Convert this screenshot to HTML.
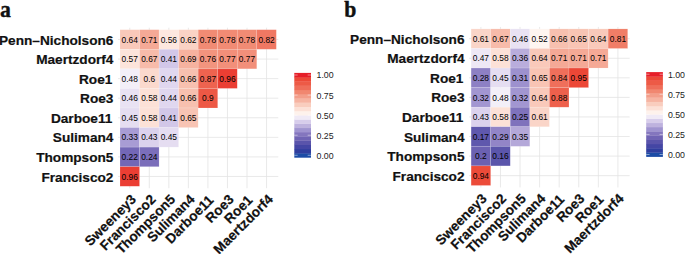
<!DOCTYPE html>
<html><head><meta charset="utf-8"><title>Correlation heatmaps</title>
<style>
html,body{margin:0;padding:0;background:#fff;}
body{width:685px;height:254px;position:relative;overflow:hidden;font-family:"Liberation Sans",sans-serif;}
</style></head><body>
<svg width="685" height="254" viewBox="0 0 685 254" style="position:absolute;left:0;top:0;font-family:'Liberation Sans',sans-serif">
<g transform="translate(0,0.2)">
<line x1="129.77" y1="27.54" x2="129.77" y2="188.02" stroke="#e3e3e3" stroke-width="0.8"/>
<line x1="118.05" y1="39.28" x2="278.27" y2="39.28" stroke="#e3e3e3" stroke-width="0.8"/>
<line x1="149.31" y1="27.54" x2="149.31" y2="188.02" stroke="#e3e3e3" stroke-width="0.8"/>
<line x1="118.05" y1="58.86" x2="278.27" y2="58.86" stroke="#e3e3e3" stroke-width="0.8"/>
<line x1="168.85" y1="27.54" x2="168.85" y2="188.02" stroke="#e3e3e3" stroke-width="0.8"/>
<line x1="118.05" y1="78.42" x2="278.27" y2="78.42" stroke="#e3e3e3" stroke-width="0.8"/>
<line x1="188.39" y1="27.54" x2="188.39" y2="188.02" stroke="#e3e3e3" stroke-width="0.8"/>
<line x1="118.05" y1="98.00" x2="278.27" y2="98.00" stroke="#e3e3e3" stroke-width="0.8"/>
<line x1="207.93" y1="27.54" x2="207.93" y2="188.02" stroke="#e3e3e3" stroke-width="0.8"/>
<line x1="118.05" y1="117.56" x2="278.27" y2="117.56" stroke="#e3e3e3" stroke-width="0.8"/>
<line x1="227.47" y1="27.54" x2="227.47" y2="188.02" stroke="#e3e3e3" stroke-width="0.8"/>
<line x1="118.05" y1="137.13" x2="278.27" y2="137.13" stroke="#e3e3e3" stroke-width="0.8"/>
<line x1="247.01" y1="27.54" x2="247.01" y2="188.02" stroke="#e3e3e3" stroke-width="0.8"/>
<line x1="118.05" y1="156.70" x2="278.27" y2="156.70" stroke="#e3e3e3" stroke-width="0.8"/>
<line x1="266.55" y1="27.54" x2="266.55" y2="188.02" stroke="#e3e3e3" stroke-width="0.8"/>
<line x1="118.05" y1="176.28" x2="278.27" y2="176.28" stroke="#e3e3e3" stroke-width="0.8"/>
<rect x="120.00" y="29.50" width="19.54" height="19.57" fill="#f9c9ba" stroke="#ffffff" stroke-opacity="0.28" stroke-width="0.5"/>
<rect x="139.54" y="29.50" width="19.54" height="19.57" fill="#f5a996" stroke="#ffffff" stroke-opacity="0.28" stroke-width="0.5"/>
<rect x="159.08" y="29.50" width="19.54" height="19.57" fill="#fde7df" stroke="#ffffff" stroke-opacity="0.28" stroke-width="0.5"/>
<rect x="178.62" y="29.50" width="19.54" height="19.57" fill="#fad2c4" stroke="#ffffff" stroke-opacity="0.28" stroke-width="0.5"/>
<rect x="198.16" y="29.50" width="19.54" height="19.57" fill="#f18b74" stroke="#ffffff" stroke-opacity="0.28" stroke-width="0.5"/>
<rect x="217.70" y="29.50" width="19.54" height="19.57" fill="#f18b74" stroke="#ffffff" stroke-opacity="0.28" stroke-width="0.5"/>
<rect x="237.24" y="29.50" width="19.54" height="19.57" fill="#f18b74" stroke="#ffffff" stroke-opacity="0.28" stroke-width="0.5"/>
<rect x="256.78" y="29.50" width="19.54" height="19.57" fill="#f07863" stroke="#ffffff" stroke-opacity="0.28" stroke-width="0.5"/>
<rect x="120.00" y="49.07" width="19.54" height="19.57" fill="#fce4db" stroke="#ffffff" stroke-opacity="0.28" stroke-width="0.5"/>
<rect x="139.54" y="49.07" width="19.54" height="19.57" fill="#f7bbaa" stroke="#ffffff" stroke-opacity="0.28" stroke-width="0.5"/>
<rect x="159.08" y="49.07" width="19.54" height="19.57" fill="#d2c7e8" stroke="#ffffff" stroke-opacity="0.28" stroke-width="0.5"/>
<rect x="178.62" y="49.07" width="19.54" height="19.57" fill="#f6b29f" stroke="#ffffff" stroke-opacity="0.28" stroke-width="0.5"/>
<rect x="198.16" y="49.07" width="19.54" height="19.57" fill="#f2947e" stroke="#ffffff" stroke-opacity="0.28" stroke-width="0.5"/>
<rect x="217.70" y="49.07" width="19.54" height="19.57" fill="#f28f7a" stroke="#ffffff" stroke-opacity="0.28" stroke-width="0.5"/>
<rect x="237.24" y="49.07" width="19.54" height="19.57" fill="#f28f7a" stroke="#ffffff" stroke-opacity="0.28" stroke-width="0.5"/>
<rect x="120.00" y="68.64" width="19.54" height="19.57" fill="#f3eff8" stroke="#ffffff" stroke-opacity="0.28" stroke-width="0.5"/>
<rect x="139.54" y="68.64" width="19.54" height="19.57" fill="#fbd9cd" stroke="#ffffff" stroke-opacity="0.28" stroke-width="0.5"/>
<rect x="159.08" y="68.64" width="19.54" height="19.57" fill="#e0d7ef" stroke="#ffffff" stroke-opacity="0.28" stroke-width="0.5"/>
<rect x="178.62" y="68.64" width="19.54" height="19.57" fill="#f7c0af" stroke="#ffffff" stroke-opacity="0.28" stroke-width="0.5"/>
<rect x="198.16" y="68.64" width="19.54" height="19.57" fill="#ee634f" stroke="#ffffff" stroke-opacity="0.28" stroke-width="0.5"/>
<rect x="217.70" y="68.64" width="19.54" height="19.57" fill="#eb3e33" stroke="#ffffff" stroke-opacity="0.28" stroke-width="0.5"/>
<rect x="120.00" y="88.21" width="19.54" height="19.57" fill="#e9e2f3" stroke="#ffffff" stroke-opacity="0.28" stroke-width="0.5"/>
<rect x="139.54" y="88.21" width="19.54" height="19.57" fill="#fce1d7" stroke="#ffffff" stroke-opacity="0.28" stroke-width="0.5"/>
<rect x="159.08" y="88.21" width="19.54" height="19.57" fill="#e0d7ef" stroke="#ffffff" stroke-opacity="0.28" stroke-width="0.5"/>
<rect x="178.62" y="88.21" width="19.54" height="19.57" fill="#f7c0af" stroke="#ffffff" stroke-opacity="0.28" stroke-width="0.5"/>
<rect x="198.16" y="88.21" width="19.54" height="19.57" fill="#ed5845" stroke="#ffffff" stroke-opacity="0.28" stroke-width="0.5"/>
<rect x="120.00" y="107.78" width="19.54" height="19.57" fill="#e5ddf1" stroke="#ffffff" stroke-opacity="0.28" stroke-width="0.5"/>
<rect x="139.54" y="107.78" width="19.54" height="19.57" fill="#fce1d7" stroke="#ffffff" stroke-opacity="0.28" stroke-width="0.5"/>
<rect x="159.08" y="107.78" width="19.54" height="19.57" fill="#d2c7e8" stroke="#ffffff" stroke-opacity="0.28" stroke-width="0.5"/>
<rect x="178.62" y="107.78" width="19.54" height="19.57" fill="#f8c4b4" stroke="#ffffff" stroke-opacity="0.28" stroke-width="0.5"/>
<rect x="120.00" y="127.35" width="19.54" height="19.57" fill="#a89cd4" stroke="#ffffff" stroke-opacity="0.28" stroke-width="0.5"/>
<rect x="139.54" y="127.35" width="19.54" height="19.57" fill="#dbd2ed" stroke="#ffffff" stroke-opacity="0.28" stroke-width="0.5"/>
<rect x="159.08" y="127.35" width="19.54" height="19.57" fill="#e5ddf1" stroke="#ffffff" stroke-opacity="0.28" stroke-width="0.5"/>
<rect x="120.00" y="146.92" width="19.54" height="19.57" fill="#7367b6" stroke="#ffffff" stroke-opacity="0.28" stroke-width="0.5"/>
<rect x="139.54" y="146.92" width="19.54" height="19.57" fill="#7b6eba" stroke="#ffffff" stroke-opacity="0.28" stroke-width="0.5"/>
<rect x="120.00" y="166.49" width="19.54" height="19.57" fill="#eb3e33" stroke="#ffffff" stroke-opacity="0.28" stroke-width="0.5"/>
<text x="129.77" y="42.43" font-size="8.4" text-anchor="middle" fill="#000">0.64</text>
<text x="149.31" y="42.43" font-size="8.4" text-anchor="middle" fill="#000">0.71</text>
<text x="168.85" y="42.43" font-size="8.4" text-anchor="middle" fill="#000">0.56</text>
<text x="188.39" y="42.43" font-size="8.4" text-anchor="middle" fill="#000">0.62</text>
<text x="207.93" y="42.43" font-size="8.4" text-anchor="middle" fill="#000">0.78</text>
<text x="227.47" y="42.43" font-size="8.4" text-anchor="middle" fill="#000">0.78</text>
<text x="247.01" y="42.43" font-size="8.4" text-anchor="middle" fill="#000">0.78</text>
<text x="266.55" y="42.43" font-size="8.4" text-anchor="middle" fill="#000">0.82</text>
<text x="129.77" y="62.01" font-size="8.4" text-anchor="middle" fill="#000">0.57</text>
<text x="149.31" y="62.01" font-size="8.4" text-anchor="middle" fill="#000">0.67</text>
<text x="168.85" y="62.01" font-size="8.4" text-anchor="middle" fill="#000">0.41</text>
<text x="188.39" y="62.01" font-size="8.4" text-anchor="middle" fill="#000">0.69</text>
<text x="207.93" y="62.01" font-size="8.4" text-anchor="middle" fill="#000">0.76</text>
<text x="227.47" y="62.01" font-size="8.4" text-anchor="middle" fill="#000">0.77</text>
<text x="247.01" y="62.01" font-size="8.4" text-anchor="middle" fill="#000">0.77</text>
<text x="129.77" y="81.58" font-size="8.4" text-anchor="middle" fill="#000">0.48</text>
<text x="149.31" y="81.58" font-size="8.4" text-anchor="middle" fill="#000">0.6</text>
<text x="168.85" y="81.58" font-size="8.4" text-anchor="middle" fill="#000">0.44</text>
<text x="188.39" y="81.58" font-size="8.4" text-anchor="middle" fill="#000">0.66</text>
<text x="207.93" y="81.58" font-size="8.4" text-anchor="middle" fill="#000">0.87</text>
<text x="227.47" y="81.58" font-size="8.4" text-anchor="middle" fill="#000">0.96</text>
<text x="129.77" y="101.15" font-size="8.4" text-anchor="middle" fill="#000">0.46</text>
<text x="149.31" y="101.15" font-size="8.4" text-anchor="middle" fill="#000">0.58</text>
<text x="168.85" y="101.15" font-size="8.4" text-anchor="middle" fill="#000">0.44</text>
<text x="188.39" y="101.15" font-size="8.4" text-anchor="middle" fill="#000">0.66</text>
<text x="207.93" y="101.15" font-size="8.4" text-anchor="middle" fill="#000">0.9</text>
<text x="129.77" y="120.72" font-size="8.4" text-anchor="middle" fill="#000">0.45</text>
<text x="149.31" y="120.72" font-size="8.4" text-anchor="middle" fill="#000">0.58</text>
<text x="168.85" y="120.72" font-size="8.4" text-anchor="middle" fill="#000">0.41</text>
<text x="188.39" y="120.72" font-size="8.4" text-anchor="middle" fill="#000">0.65</text>
<text x="129.77" y="140.28" font-size="8.4" text-anchor="middle" fill="#000">0.33</text>
<text x="149.31" y="140.28" font-size="8.4" text-anchor="middle" fill="#000">0.43</text>
<text x="168.85" y="140.28" font-size="8.4" text-anchor="middle" fill="#000">0.45</text>
<text x="129.77" y="159.85" font-size="8.4" text-anchor="middle" fill="#000">0.22</text>
<text x="149.31" y="159.85" font-size="8.4" text-anchor="middle" fill="#000">0.24</text>
<text x="129.77" y="179.43" font-size="8.4" text-anchor="middle" fill="#000">0.96</text>
<text x="113.45" y="44.33" font-size="13.65" font-weight="bold" text-anchor="end" fill="#111" stroke="#111" stroke-width="0.2">Penn–Nicholson6</text>
<text x="113.45" y="63.91" font-size="13.65" font-weight="bold" text-anchor="end" fill="#111" stroke="#111" stroke-width="0.2">Maertzdorf4</text>
<text x="112.35" y="83.47" font-size="13.65" font-weight="bold" text-anchor="end" fill="#111" stroke="#111" stroke-width="0.2">Roe1</text>
<text x="113.45" y="103.05" font-size="13.65" font-weight="bold" text-anchor="end" fill="#111" stroke="#111" stroke-width="0.2">Roe3</text>
<text x="112.35" y="122.61" font-size="13.65" font-weight="bold" text-anchor="end" fill="#111" stroke="#111" stroke-width="0.2">Darboe11</text>
<text x="113.45" y="142.19" font-size="13.65" font-weight="bold" text-anchor="end" fill="#111" stroke="#111" stroke-width="0.2">Suliman4</text>
<text x="113.45" y="161.75" font-size="13.65" font-weight="bold" text-anchor="end" fill="#111" stroke="#111" stroke-width="0.2">Thompson5</text>
<text x="113.45" y="181.33" font-size="13.65" font-weight="bold" text-anchor="end" fill="#111" stroke="#111" stroke-width="0.2">Francisco2</text>
<text transform="translate(130.07,193.10) rotate(-45)" x="0" y="9.77" font-size="13.65" font-weight="bold" text-anchor="end" fill="#111" stroke="#111" stroke-width="0.2">Sweeney3</text>
<text transform="translate(149.61,193.10) rotate(-45)" x="0" y="9.77" font-size="13.65" font-weight="bold" text-anchor="end" fill="#111" stroke="#111" stroke-width="0.2">Francisco2</text>
<text transform="translate(169.15,193.10) rotate(-45)" x="0" y="9.77" font-size="13.65" font-weight="bold" text-anchor="end" fill="#111" stroke="#111" stroke-width="0.2">Thompson5</text>
<text transform="translate(188.69,193.10) rotate(-45)" x="0" y="9.77" font-size="13.65" font-weight="bold" text-anchor="end" fill="#111" stroke="#111" stroke-width="0.2">Suliman4</text>
<text transform="translate(208.23,193.10) rotate(-45)" x="-1.1" y="9.77" font-size="13.65" font-weight="bold" text-anchor="end" fill="#111" stroke="#111" stroke-width="0.2">Darboe11</text>
<text transform="translate(227.77,193.10) rotate(-45)" x="0" y="9.77" font-size="13.65" font-weight="bold" text-anchor="end" fill="#111" stroke="#111" stroke-width="0.2">Roe3</text>
<text transform="translate(247.31,193.10) rotate(-45)" x="-1.1" y="9.77" font-size="13.65" font-weight="bold" text-anchor="end" fill="#111" stroke="#111" stroke-width="0.2">Roe1</text>
<text transform="translate(266.85,193.10) rotate(-45)" x="0" y="9.77" font-size="13.65" font-weight="bold" text-anchor="end" fill="#111" stroke="#111" stroke-width="0.2">Maertzdorf4</text>
<rect x="294.30" y="152.97" width="16.7" height="4.52" fill="#1c4ca6"/>
<rect x="294.30" y="148.75" width="16.7" height="4.52" fill="#303e9e"/>
<rect x="294.30" y="144.52" width="16.7" height="4.52" fill="#4446a4"/>
<rect x="294.30" y="140.30" width="16.7" height="4.52" fill="#5a54ab"/>
<rect x="294.30" y="136.07" width="16.7" height="4.52" fill="#7064b4"/>
<rect x="294.30" y="131.85" width="16.7" height="4.52" fill="#8476be"/>
<rect x="294.30" y="127.62" width="16.7" height="4.52" fill="#a094d0"/>
<rect x="294.30" y="123.40" width="16.7" height="4.52" fill="#beb2de"/>
<rect x="294.30" y="119.17" width="16.7" height="4.52" fill="#d7cdeb"/>
<rect x="294.30" y="114.95" width="16.7" height="4.52" fill="#f0eaf6"/>
<rect x="294.30" y="110.72" width="16.7" height="4.52" fill="#fef2ec"/>
<rect x="294.30" y="106.50" width="16.7" height="4.52" fill="#fce1d7"/>
<rect x="294.30" y="102.27" width="16.7" height="4.52" fill="#f9cdbe"/>
<rect x="294.30" y="98.05" width="16.7" height="4.52" fill="#f6b4a2"/>
<rect x="294.30" y="93.82" width="16.7" height="4.52" fill="#f39e8a"/>
<rect x="294.30" y="89.60" width="16.7" height="4.52" fill="#f18770"/>
<rect x="294.30" y="85.37" width="16.7" height="4.52" fill="#ef6e5a"/>
<rect x="294.30" y="81.15" width="16.7" height="4.52" fill="#ed5a46"/>
<rect x="294.30" y="76.92" width="16.7" height="4.52" fill="#ec4937"/>
<rect x="294.30" y="72.70" width="16.7" height="4.52" fill="#e61e28"/>
<line x1="294.3" y1="155.09" x2="297.64" y2="155.09" stroke="#fff" stroke-opacity="0.8" stroke-width="0.6"/>
<line x1="307.66" y1="155.09" x2="311.00" y2="155.09" stroke="#fff" stroke-opacity="0.8" stroke-width="0.6"/>
<text x="316.50" y="158.54" font-size="8.8" fill="#222">0.00</text>
<line x1="294.3" y1="135.02" x2="297.64" y2="135.02" stroke="#fff" stroke-opacity="0.8" stroke-width="0.6"/>
<line x1="307.66" y1="135.02" x2="311.00" y2="135.02" stroke="#fff" stroke-opacity="0.8" stroke-width="0.6"/>
<text x="316.50" y="138.47" font-size="8.8" fill="#222">0.25</text>
<line x1="294.3" y1="114.95" x2="297.64" y2="114.95" stroke="#fff" stroke-opacity="0.8" stroke-width="0.6"/>
<line x1="307.66" y1="114.95" x2="311.00" y2="114.95" stroke="#fff" stroke-opacity="0.8" stroke-width="0.6"/>
<text x="316.50" y="118.40" font-size="8.8" fill="#222">0.50</text>
<line x1="294.3" y1="94.88" x2="297.64" y2="94.88" stroke="#fff" stroke-opacity="0.8" stroke-width="0.6"/>
<line x1="307.66" y1="94.88" x2="311.00" y2="94.88" stroke="#fff" stroke-opacity="0.8" stroke-width="0.6"/>
<text x="316.50" y="98.33" font-size="8.8" fill="#222">0.75</text>
<line x1="294.3" y1="74.81" x2="297.64" y2="74.81" stroke="#fff" stroke-opacity="0.8" stroke-width="0.6"/>
<line x1="307.66" y1="74.81" x2="311.00" y2="74.81" stroke="#fff" stroke-opacity="0.8" stroke-width="0.6"/>
<text x="316.50" y="78.26" font-size="8.8" fill="#222">1.00</text>
</g>
<text transform="translate(-0.1,16.5) scale(0.92,1)" x="0" y="0" font-family="Liberation Serif, serif" font-weight="bold" font-size="23.6" fill="#111" stroke="#111" stroke-width="0.45">a</text>
<g transform="translate(0,-0.6)">
<line x1="480.89" y1="27.54" x2="480.89" y2="188.02" stroke="#e3e3e3" stroke-width="0.8"/>
<line x1="469.14" y1="39.28" x2="629.66" y2="39.28" stroke="#e3e3e3" stroke-width="0.8"/>
<line x1="500.46" y1="27.54" x2="500.46" y2="188.02" stroke="#e3e3e3" stroke-width="0.8"/>
<line x1="469.14" y1="58.86" x2="629.66" y2="58.86" stroke="#e3e3e3" stroke-width="0.8"/>
<line x1="520.04" y1="27.54" x2="520.04" y2="188.02" stroke="#e3e3e3" stroke-width="0.8"/>
<line x1="469.14" y1="78.42" x2="629.66" y2="78.42" stroke="#e3e3e3" stroke-width="0.8"/>
<line x1="539.61" y1="27.54" x2="539.61" y2="188.02" stroke="#e3e3e3" stroke-width="0.8"/>
<line x1="469.14" y1="98.00" x2="629.66" y2="98.00" stroke="#e3e3e3" stroke-width="0.8"/>
<line x1="559.19" y1="27.54" x2="559.19" y2="188.02" stroke="#e3e3e3" stroke-width="0.8"/>
<line x1="469.14" y1="117.56" x2="629.66" y2="117.56" stroke="#e3e3e3" stroke-width="0.8"/>
<line x1="578.76" y1="27.54" x2="578.76" y2="188.02" stroke="#e3e3e3" stroke-width="0.8"/>
<line x1="469.14" y1="137.13" x2="629.66" y2="137.13" stroke="#e3e3e3" stroke-width="0.8"/>
<line x1="598.34" y1="27.54" x2="598.34" y2="188.02" stroke="#e3e3e3" stroke-width="0.8"/>
<line x1="469.14" y1="156.70" x2="629.66" y2="156.70" stroke="#e3e3e3" stroke-width="0.8"/>
<line x1="617.91" y1="27.54" x2="617.91" y2="188.02" stroke="#e3e3e3" stroke-width="0.8"/>
<line x1="469.14" y1="176.28" x2="629.66" y2="176.28" stroke="#e3e3e3" stroke-width="0.8"/>
<rect x="471.10" y="29.50" width="19.57" height="19.57" fill="#fad5c8" stroke="#ffffff" stroke-opacity="0.28" stroke-width="0.5"/>
<rect x="490.68" y="29.50" width="19.57" height="19.57" fill="#f7bbaa" stroke="#ffffff" stroke-opacity="0.28" stroke-width="0.5"/>
<rect x="510.25" y="29.50" width="19.57" height="19.57" fill="#e9e2f3" stroke="#ffffff" stroke-opacity="0.28" stroke-width="0.5"/>
<rect x="529.83" y="29.50" width="19.57" height="19.57" fill="#fef5f0" stroke="#ffffff" stroke-opacity="0.28" stroke-width="0.5"/>
<rect x="549.40" y="29.50" width="19.57" height="19.57" fill="#f7c0af" stroke="#ffffff" stroke-opacity="0.28" stroke-width="0.5"/>
<rect x="568.98" y="29.50" width="19.57" height="19.57" fill="#f8c4b4" stroke="#ffffff" stroke-opacity="0.28" stroke-width="0.5"/>
<rect x="588.55" y="29.50" width="19.57" height="19.57" fill="#f9c9ba" stroke="#ffffff" stroke-opacity="0.28" stroke-width="0.5"/>
<rect x="608.12" y="29.50" width="19.57" height="19.57" fill="#f07d67" stroke="#ffffff" stroke-opacity="0.28" stroke-width="0.5"/>
<rect x="471.10" y="49.07" width="19.57" height="19.57" fill="#eee8f5" stroke="#ffffff" stroke-opacity="0.28" stroke-width="0.5"/>
<rect x="490.68" y="49.07" width="19.57" height="19.57" fill="#fce1d7" stroke="#ffffff" stroke-opacity="0.28" stroke-width="0.5"/>
<rect x="510.25" y="49.07" width="19.57" height="19.57" fill="#b9addc" stroke="#ffffff" stroke-opacity="0.28" stroke-width="0.5"/>
<rect x="529.83" y="49.07" width="19.57" height="19.57" fill="#f9c9ba" stroke="#ffffff" stroke-opacity="0.28" stroke-width="0.5"/>
<rect x="549.40" y="49.07" width="19.57" height="19.57" fill="#f5a996" stroke="#ffffff" stroke-opacity="0.28" stroke-width="0.5"/>
<rect x="568.98" y="49.07" width="19.57" height="19.57" fill="#f5a996" stroke="#ffffff" stroke-opacity="0.28" stroke-width="0.5"/>
<rect x="588.55" y="49.07" width="19.57" height="19.57" fill="#f5a996" stroke="#ffffff" stroke-opacity="0.28" stroke-width="0.5"/>
<rect x="471.10" y="68.64" width="19.57" height="19.57" fill="#8d80c4" stroke="#ffffff" stroke-opacity="0.28" stroke-width="0.5"/>
<rect x="490.68" y="68.64" width="19.57" height="19.57" fill="#e5ddf1" stroke="#ffffff" stroke-opacity="0.28" stroke-width="0.5"/>
<rect x="510.25" y="68.64" width="19.57" height="19.57" fill="#9d91ce" stroke="#ffffff" stroke-opacity="0.28" stroke-width="0.5"/>
<rect x="529.83" y="68.64" width="19.57" height="19.57" fill="#f8c4b4" stroke="#ffffff" stroke-opacity="0.28" stroke-width="0.5"/>
<rect x="549.40" y="68.64" width="19.57" height="19.57" fill="#ef6f5b" stroke="#ffffff" stroke-opacity="0.28" stroke-width="0.5"/>
<rect x="568.98" y="68.64" width="19.57" height="19.57" fill="#ec4736" stroke="#ffffff" stroke-opacity="0.28" stroke-width="0.5"/>
<rect x="471.10" y="88.21" width="19.57" height="19.57" fill="#a296d1" stroke="#ffffff" stroke-opacity="0.28" stroke-width="0.5"/>
<rect x="490.68" y="88.21" width="19.57" height="19.57" fill="#f3eff8" stroke="#ffffff" stroke-opacity="0.28" stroke-width="0.5"/>
<rect x="510.25" y="88.21" width="19.57" height="19.57" fill="#a296d1" stroke="#ffffff" stroke-opacity="0.28" stroke-width="0.5"/>
<rect x="529.83" y="88.21" width="19.57" height="19.57" fill="#f9c9ba" stroke="#ffffff" stroke-opacity="0.28" stroke-width="0.5"/>
<rect x="549.40" y="88.21" width="19.57" height="19.57" fill="#ee604c" stroke="#ffffff" stroke-opacity="0.28" stroke-width="0.5"/>
<rect x="471.10" y="107.78" width="19.57" height="19.57" fill="#dbd2ed" stroke="#ffffff" stroke-opacity="0.28" stroke-width="0.5"/>
<rect x="490.68" y="107.78" width="19.57" height="19.57" fill="#fce1d7" stroke="#ffffff" stroke-opacity="0.28" stroke-width="0.5"/>
<rect x="510.25" y="107.78" width="19.57" height="19.57" fill="#7f72bc" stroke="#ffffff" stroke-opacity="0.28" stroke-width="0.5"/>
<rect x="529.83" y="107.78" width="19.57" height="19.57" fill="#fad5c8" stroke="#ffffff" stroke-opacity="0.28" stroke-width="0.5"/>
<rect x="471.10" y="127.35" width="19.57" height="19.57" fill="#5f58ad" stroke="#ffffff" stroke-opacity="0.28" stroke-width="0.5"/>
<rect x="490.68" y="127.35" width="19.57" height="19.57" fill="#9285c7" stroke="#ffffff" stroke-opacity="0.28" stroke-width="0.5"/>
<rect x="510.25" y="127.35" width="19.57" height="19.57" fill="#b4a8d9" stroke="#ffffff" stroke-opacity="0.28" stroke-width="0.5"/>
<rect x="471.10" y="146.92" width="19.57" height="19.57" fill="#6b61b2" stroke="#ffffff" stroke-opacity="0.28" stroke-width="0.5"/>
<rect x="490.68" y="146.92" width="19.57" height="19.57" fill="#5b55ab" stroke="#ffffff" stroke-opacity="0.28" stroke-width="0.5"/>
<rect x="471.10" y="166.49" width="19.57" height="19.57" fill="#ec4b39" stroke="#ffffff" stroke-opacity="0.28" stroke-width="0.5"/>
<text x="480.89" y="42.43" font-size="8.4" text-anchor="middle" fill="#000">0.61</text>
<text x="500.46" y="42.43" font-size="8.4" text-anchor="middle" fill="#000">0.67</text>
<text x="520.04" y="42.43" font-size="8.4" text-anchor="middle" fill="#000">0.46</text>
<text x="539.61" y="42.43" font-size="8.4" text-anchor="middle" fill="#000">0.52</text>
<text x="559.19" y="42.43" font-size="8.4" text-anchor="middle" fill="#000">0.66</text>
<text x="578.76" y="42.43" font-size="8.4" text-anchor="middle" fill="#000">0.65</text>
<text x="598.34" y="42.43" font-size="8.4" text-anchor="middle" fill="#000">0.64</text>
<text x="617.91" y="42.43" font-size="8.4" text-anchor="middle" fill="#000">0.81</text>
<text x="480.89" y="62.01" font-size="8.4" text-anchor="middle" fill="#000">0.47</text>
<text x="500.46" y="62.01" font-size="8.4" text-anchor="middle" fill="#000">0.58</text>
<text x="520.04" y="62.01" font-size="8.4" text-anchor="middle" fill="#000">0.36</text>
<text x="539.61" y="62.01" font-size="8.4" text-anchor="middle" fill="#000">0.64</text>
<text x="559.19" y="62.01" font-size="8.4" text-anchor="middle" fill="#000">0.71</text>
<text x="578.76" y="62.01" font-size="8.4" text-anchor="middle" fill="#000">0.71</text>
<text x="598.34" y="62.01" font-size="8.4" text-anchor="middle" fill="#000">0.71</text>
<text x="480.89" y="81.58" font-size="8.4" text-anchor="middle" fill="#000">0.28</text>
<text x="500.46" y="81.58" font-size="8.4" text-anchor="middle" fill="#000">0.45</text>
<text x="520.04" y="81.58" font-size="8.4" text-anchor="middle" fill="#000">0.31</text>
<text x="539.61" y="81.58" font-size="8.4" text-anchor="middle" fill="#000">0.65</text>
<text x="559.19" y="81.58" font-size="8.4" text-anchor="middle" fill="#000">0.84</text>
<text x="578.76" y="81.58" font-size="8.4" text-anchor="middle" fill="#000">0.95</text>
<text x="480.89" y="101.15" font-size="8.4" text-anchor="middle" fill="#000">0.32</text>
<text x="500.46" y="101.15" font-size="8.4" text-anchor="middle" fill="#000">0.48</text>
<text x="520.04" y="101.15" font-size="8.4" text-anchor="middle" fill="#000">0.32</text>
<text x="539.61" y="101.15" font-size="8.4" text-anchor="middle" fill="#000">0.64</text>
<text x="559.19" y="101.15" font-size="8.4" text-anchor="middle" fill="#000">0.88</text>
<text x="480.89" y="120.72" font-size="8.4" text-anchor="middle" fill="#000">0.43</text>
<text x="500.46" y="120.72" font-size="8.4" text-anchor="middle" fill="#000">0.58</text>
<text x="520.04" y="120.72" font-size="8.4" text-anchor="middle" fill="#000">0.25</text>
<text x="539.61" y="120.72" font-size="8.4" text-anchor="middle" fill="#000">0.61</text>
<text x="480.89" y="140.28" font-size="8.4" text-anchor="middle" fill="#000">0.17</text>
<text x="500.46" y="140.28" font-size="8.4" text-anchor="middle" fill="#000">0.29</text>
<text x="520.04" y="140.28" font-size="8.4" text-anchor="middle" fill="#000">0.35</text>
<text x="480.89" y="159.85" font-size="8.4" text-anchor="middle" fill="#000">0.2</text>
<text x="500.46" y="159.85" font-size="8.4" text-anchor="middle" fill="#000">0.16</text>
<text x="480.89" y="179.43" font-size="8.4" text-anchor="middle" fill="#000">0.94</text>
<text x="464.54" y="44.33" font-size="13.65" font-weight="bold" text-anchor="end" fill="#111" stroke="#111" stroke-width="0.2">Penn–Nicholson6</text>
<text x="464.54" y="63.91" font-size="13.65" font-weight="bold" text-anchor="end" fill="#111" stroke="#111" stroke-width="0.2">Maertzdorf4</text>
<text x="463.44" y="83.47" font-size="13.65" font-weight="bold" text-anchor="end" fill="#111" stroke="#111" stroke-width="0.2">Roe1</text>
<text x="464.54" y="103.05" font-size="13.65" font-weight="bold" text-anchor="end" fill="#111" stroke="#111" stroke-width="0.2">Roe3</text>
<text x="463.44" y="122.61" font-size="13.65" font-weight="bold" text-anchor="end" fill="#111" stroke="#111" stroke-width="0.2">Darboe11</text>
<text x="464.54" y="142.19" font-size="13.65" font-weight="bold" text-anchor="end" fill="#111" stroke="#111" stroke-width="0.2">Suliman4</text>
<text x="464.54" y="161.75" font-size="13.65" font-weight="bold" text-anchor="end" fill="#111" stroke="#111" stroke-width="0.2">Thompson5</text>
<text x="464.54" y="181.33" font-size="13.65" font-weight="bold" text-anchor="end" fill="#111" stroke="#111" stroke-width="0.2">Francisco2</text>
<text transform="translate(480.69,193.10) rotate(-45)" x="0" y="9.77" font-size="13.65" font-weight="bold" text-anchor="end" fill="#111" stroke="#111" stroke-width="0.2">Sweeney3</text>
<text transform="translate(500.26,193.10) rotate(-45)" x="0" y="9.77" font-size="13.65" font-weight="bold" text-anchor="end" fill="#111" stroke="#111" stroke-width="0.2">Francisco2</text>
<text transform="translate(519.84,193.10) rotate(-45)" x="0" y="9.77" font-size="13.65" font-weight="bold" text-anchor="end" fill="#111" stroke="#111" stroke-width="0.2">Thompson5</text>
<text transform="translate(539.41,193.10) rotate(-45)" x="0" y="9.77" font-size="13.65" font-weight="bold" text-anchor="end" fill="#111" stroke="#111" stroke-width="0.2">Suliman4</text>
<text transform="translate(558.99,193.10) rotate(-45)" x="-1.1" y="9.77" font-size="13.65" font-weight="bold" text-anchor="end" fill="#111" stroke="#111" stroke-width="0.2">Darboe11</text>
<text transform="translate(578.56,193.10) rotate(-45)" x="0" y="9.77" font-size="13.65" font-weight="bold" text-anchor="end" fill="#111" stroke="#111" stroke-width="0.2">Roe3</text>
<text transform="translate(598.14,193.10) rotate(-45)" x="-1.1" y="9.77" font-size="13.65" font-weight="bold" text-anchor="end" fill="#111" stroke="#111" stroke-width="0.2">Roe1</text>
<text transform="translate(617.71,193.10) rotate(-45)" x="0" y="9.77" font-size="13.65" font-weight="bold" text-anchor="end" fill="#111" stroke="#111" stroke-width="0.2">Maertzdorf4</text>
<rect x="646.20" y="152.97" width="16.7" height="4.52" fill="#1c4ca6"/>
<rect x="646.20" y="148.75" width="16.7" height="4.52" fill="#303e9e"/>
<rect x="646.20" y="144.52" width="16.7" height="4.52" fill="#4446a4"/>
<rect x="646.20" y="140.30" width="16.7" height="4.52" fill="#5a54ab"/>
<rect x="646.20" y="136.07" width="16.7" height="4.52" fill="#7064b4"/>
<rect x="646.20" y="131.85" width="16.7" height="4.52" fill="#8476be"/>
<rect x="646.20" y="127.62" width="16.7" height="4.52" fill="#a094d0"/>
<rect x="646.20" y="123.40" width="16.7" height="4.52" fill="#beb2de"/>
<rect x="646.20" y="119.17" width="16.7" height="4.52" fill="#d7cdeb"/>
<rect x="646.20" y="114.95" width="16.7" height="4.52" fill="#f0eaf6"/>
<rect x="646.20" y="110.72" width="16.7" height="4.52" fill="#fef2ec"/>
<rect x="646.20" y="106.50" width="16.7" height="4.52" fill="#fce1d7"/>
<rect x="646.20" y="102.27" width="16.7" height="4.52" fill="#f9cdbe"/>
<rect x="646.20" y="98.05" width="16.7" height="4.52" fill="#f6b4a2"/>
<rect x="646.20" y="93.82" width="16.7" height="4.52" fill="#f39e8a"/>
<rect x="646.20" y="89.60" width="16.7" height="4.52" fill="#f18770"/>
<rect x="646.20" y="85.37" width="16.7" height="4.52" fill="#ef6e5a"/>
<rect x="646.20" y="81.15" width="16.7" height="4.52" fill="#ed5a46"/>
<rect x="646.20" y="76.92" width="16.7" height="4.52" fill="#ec4937"/>
<rect x="646.20" y="72.70" width="16.7" height="4.52" fill="#e61e28"/>
<line x1="646.2" y1="155.09" x2="649.54" y2="155.09" stroke="#fff" stroke-opacity="0.8" stroke-width="0.6"/>
<line x1="659.56" y1="155.09" x2="662.90" y2="155.09" stroke="#fff" stroke-opacity="0.8" stroke-width="0.6"/>
<text x="667.90" y="158.54" font-size="8.8" fill="#222">0.00</text>
<line x1="646.2" y1="135.02" x2="649.54" y2="135.02" stroke="#fff" stroke-opacity="0.8" stroke-width="0.6"/>
<line x1="659.56" y1="135.02" x2="662.90" y2="135.02" stroke="#fff" stroke-opacity="0.8" stroke-width="0.6"/>
<text x="667.90" y="138.47" font-size="8.8" fill="#222">0.25</text>
<line x1="646.2" y1="114.95" x2="649.54" y2="114.95" stroke="#fff" stroke-opacity="0.8" stroke-width="0.6"/>
<line x1="659.56" y1="114.95" x2="662.90" y2="114.95" stroke="#fff" stroke-opacity="0.8" stroke-width="0.6"/>
<text x="667.90" y="118.40" font-size="8.8" fill="#222">0.50</text>
<line x1="646.2" y1="94.88" x2="649.54" y2="94.88" stroke="#fff" stroke-opacity="0.8" stroke-width="0.6"/>
<line x1="659.56" y1="94.88" x2="662.90" y2="94.88" stroke="#fff" stroke-opacity="0.8" stroke-width="0.6"/>
<text x="667.90" y="98.33" font-size="8.8" fill="#222">0.75</text>
<line x1="646.2" y1="74.81" x2="649.54" y2="74.81" stroke="#fff" stroke-opacity="0.8" stroke-width="0.6"/>
<line x1="659.56" y1="74.81" x2="662.90" y2="74.81" stroke="#fff" stroke-opacity="0.8" stroke-width="0.6"/>
<text x="667.90" y="78.26" font-size="8.8" fill="#222">1.00</text>
</g>
<text transform="translate(344.3,16.5) scale(0.92,1)" x="0" y="0" font-family="Liberation Serif, serif" font-weight="bold" font-size="23.6" fill="#111" stroke="#111" stroke-width="0.45">b</text>
</svg>
</body></html>
